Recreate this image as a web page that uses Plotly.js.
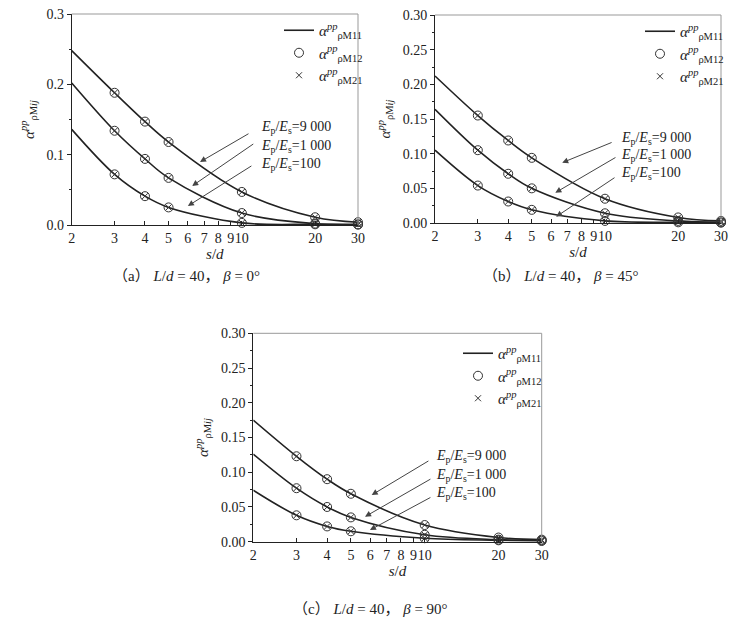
<!DOCTYPE html>
<html>
<head>
<meta charset="utf-8">
<script src="https://cdn.plot.ly/plotly-3.0.1.min.js"></script>
<style>html,body{margin:0;padding:0;background:#fff;}</style>
</head>
<body>
<div id="chart" style="width:740px;height:624px;"></div>
<script>
// s/d values (log x axis)
const sd = [2, 3, 4, 5, 10, 20, 30];
const xTickVals = [2, 3, 4, 5, 6, 7, 8, 9, 10, 20, 30];
const xTickText = ['2', '3', '4', '5', '6', '7', '8', '9', '10', '20', '30'];

// (a) L/d=40, beta=0
const a_9000 = [0.248, 0.188, 0.147, 0.118, 0.047, 0.011, 0.004];
const a_1000 = [0.202, 0.134, 0.094, 0.067, 0.017, 0.002, 0.001];
const a_100  = [0.136, 0.072, 0.041, 0.025, 0.003, 0.001, 0.0005];
// (b) L/d=40, beta=45
const b_9000 = [0.212, 0.155, 0.119, 0.094, 0.035, 0.008, 0.003];
const b_1000 = [0.164, 0.105, 0.071, 0.050, 0.014, 0.003, 0.001];
const b_100  = [0.105, 0.054, 0.031, 0.019, 0.003, 0.001, 0.0005];
// (c) L/d=40, beta=90
const c_9000 = [0.175, 0.123, 0.090, 0.069, 0.024, 0.006, 0.003];
const c_1000 = [0.126, 0.077, 0.050, 0.035, 0.010, 0.003, 0.002];
const c_100  = [0.074, 0.038, 0.022, 0.015, 0.005, 0.002, 0.001];

const ratioLabels = ['<i>E</i><sub>p</sub>/<i>E</i><sub>s</sub>=9 000',
                     '<i>E</i><sub>p</sub>/<i>E</i><sub>s</sub>=1 000',
                     '<i>E</i><sub>p</sub>/<i>E</i><sub>s</sub>=100'];
const legendNames = ['<i>α</i><sup><i>pp</i></sup><sub>ρM11</sub>',
                     '<i>α</i><sup><i>pp</i></sup><sub>ρM12</sub>',
                     '<i>α</i><sup><i>pp</i></sup><sub>ρM21</sub>'];
const captions = ['（a） <i>L</i>/<i>d</i> = 40， <i>β</i> = 0°',
                  '（b） <i>L</i>/<i>d</i> = 40， <i>β</i> = 45°',
                  '（c） <i>L</i>/<i>d</i> = 40， <i>β</i> = 90°'];

// label anchor (s/d, value) and arrow tail/head per panel
const labelPos = {
  a: {x: [11.8, 11.8, 11.8], y: [0.138, 0.112, 0.0867]},
  b: {x: [11.4, 11.4, 11.4], y: [0.122, 0.098, 0.0717]},
  c: {x: [10.9, 10.9, 10.9], y: [0.1224, 0.095, 0.0687]}
};
const arrowTail = {
  a: {x: [10.8, 11.3, 11.1], y: [0.131, 0.1166, 0.0853]},
  b: {x: [10.8, 11.2, 11.1], y: [0.117, 0.0957, 0.0668]},
  c: {x: [10.5, 10.7, 10.7], y: [0.1175, 0.0913, 0.0648]}
};
const arrowHead = {
  a: {x: [6.73, 6.25, 6.0], y: [0.0896, 0.0555, 0.027]},
  b: {x: [6.67, 6.25, 6.3], y: [0.087, 0.0437, 0.0091]},
  c: {x: [6.08, 5.71, 5.98], y: [0.0672, 0.036, 0.0168]}
};

const SERIF = "'Liberation Serif', 'Times New Roman', serif";
const LINE_C = '#222';
const MARK_C = '#333';

const panels = [
  {key: 'a', xa: 'x',  ya: 'y',  leg: 'legend',  series: [a_9000, a_1000, a_100]},
  {key: 'b', xa: 'x2', ya: 'y2', leg: 'legend2', series: [b_9000, b_1000, b_100]},
  {key: 'c', xa: 'x3', ya: 'y3', leg: 'legend3', series: [c_9000, c_1000, c_100]}
];

const data = [];
panels.forEach(p => {
  p.series.forEach((s, i) => {
    data.push({x: sd, y: s, xaxis: p.xa, yaxis: p.ya, legend: p.leg,
      type: 'scatter', mode: 'lines', line: {color: LINE_C, width: 1.6, shape: 'spline', smoothing: 1},
      name: legendNames[0], legendgroup: p.key + 'm11', showlegend: i === 0, cliponaxis: true});
  });
  p.series.forEach((s, i) => {
    data.push({x: sd, y: s, xaxis: p.xa, yaxis: p.ya, legend: p.leg,
      type: 'scatter', mode: 'markers',
      marker: {symbol: 'circle-open', size: 9, color: MARK_C, line: {width: 1, color: MARK_C}},
      name: legendNames[1], legendgroup: p.key + 'm12', showlegend: i === 0, cliponaxis: false});
  });
  p.series.forEach((s, i) => {
    data.push({x: sd, y: s, xaxis: p.xa, yaxis: p.ya, legend: p.leg,
      type: 'scatter', mode: 'markers',
      marker: {symbol: 'x-thin', size: 6, color: MARK_C, line: {width: 1, color: MARK_C}},
      name: legendNames[2], legendgroup: p.key + 'm21', showlegend: i === 0, cliponaxis: false});
  });
});

function xaxisDef(domain, anchor) {
  return {domain: domain, anchor: anchor, type: 'log', range: [Math.log10(2), Math.log10(30)],
    tickvals: xTickVals, ticktext: xTickText, tickangle: 0, ticks: 'inside', ticklen: 4, tickcolor: '#222',
    showline: true, linecolor: '#222', linewidth: 1, showgrid: false, zeroline: false,
    tickfont: {family: SERIF, size: 14, color: '#222'},
    title: {text: '<i>s</i>/<i>d</i>', font: {family: SERIF, size: 15, color: '#222'}, standoff: 1}};
}
function yaxisDef(domain, anchor, dtick, fmt, minor) {
  return {domain: domain, anchor: anchor, range: [0, 0.3], dtick: dtick, tickformat: fmt,
    ticks: 'outside', ticklen: 4, tickcolor: '#222',
    minor: {dtick: minor, ticks: 'outside', ticklen: 2, tickcolor: '#222'},
    showline: true, linecolor: '#222', linewidth: 1, showgrid: false, zeroline: false,
    tickfont: {family: SERIF, size: 14, color: '#222'},
    title: {text: '<i>α</i><sup><i>pp</i></sup><sub>ρM<i>ij</i></sub>', font: {family: SERIF, size: 15, color: '#222'}, standoff: 8}};
}

const annotations = [];
const shapes = [];
panels.forEach((p, k) => {
  const xr = p.xa, yr = p.ya;
  for (let i = 0; i < 3; i++) {
    annotations.push({xref: xr, yref: yr, x: Math.log10(labelPos[p.key].x[i]), y: labelPos[p.key].y[i],
      text: ratioLabels[i], showarrow: false, xanchor: 'left', yanchor: 'middle',
      font: {family: SERIF, size: 14, color: '#222'}});
    annotations.push({xref: xr, yref: yr, axref: xr, ayref: yr,
      x: Math.log10(arrowHead[p.key].x[i]), y: arrowHead[p.key].y[i],
      ax: Math.log10(arrowTail[p.key].x[i]), ay: arrowTail[p.key].y[i],
      text: '', showarrow: true, arrowhead: 2, arrowsize: 1.2, arrowwidth: 1, arrowcolor: '#444'});
  }
  // frame top/right
  shapes.push({type: 'line', xref: xr + ' domain', yref: yr + ' domain', x0: 0, x1: 1, y0: 1, y1: 1, line: {color: '#999', width: 1}});
  shapes.push({type: 'line', xref: xr + ' domain', yref: yr + ' domain', x0: 1, x1: 1, y0: 0, y1: 1, line: {color: '#999', width: 1}});
});
const capPos = [[187 / 740, 1 - 276 / 624], [560 / 740, 1 - 276 / 624], [370 / 740, 1 - 609 / 624]];
captions.forEach((c, i) => {
  annotations.push({xref: 'paper', yref: 'paper', x: capPos[i][0], y: capPos[i][1], text: c, showarrow: false,
    xanchor: 'center', yanchor: 'middle', font: {family: "'Liberation Serif', 'Noto Sans CJK SC', serif", size: 15, color: '#222'}});
});

function legendDef(x, y) {
  return {x: x, y: y, xanchor: 'left', yanchor: 'top', bgcolor: 'rgba(0,0,0,0)', borderwidth: 0,
    font: {family: SERIF, size: 15, color: '#222'}, tracegroupgap: 0, itemwidth: 30};
}

const layout = {
  width: 740, height: 624, margin: {l: 0, r: 0, t: 0, b: 0},
  paper_bgcolor: '#fff', plot_bgcolor: '#fff', showlegend: true,
  xaxis: xaxisDef([71.7 / 740, 358 / 740], 'y'),
  yaxis: yaxisDef([1 - 225 / 624, 1 - 14 / 624], 'x', 0.1, '.1f', 0.05),
  xaxis2: xaxisDef([435 / 740, 721 / 740], 'y2'),
  yaxis2: yaxisDef([1 - 223 / 624, 1 - 15 / 624], 'x2', 0.05, '.2f', 0.025),
  xaxis3: xaxisDef([253.3 / 740, 541.7 / 740], 'y3'),
  yaxis3: yaxisDef([1 - 541.7 / 624, 1 - 333.3 / 624], 'x3', 0.05, '.2f', 0.025),
  legend: legendDef(279 / 740, 1 - 14 / 624),
  legend2: legendDef(640 / 740, 1 - 15 / 624),
  legend3: legendDef(458 / 740, 1 - 337 / 624),
  annotations: annotations, shapes: shapes
};

Plotly.newPlot('chart', data, layout, {displayModeBar: false, staticPlot: true});
</script>
</body>
</html>
